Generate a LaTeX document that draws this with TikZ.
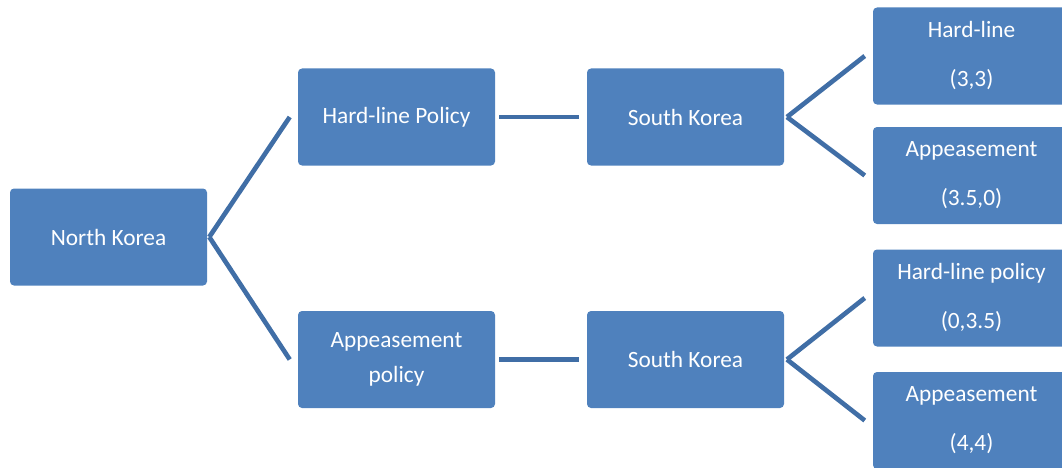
\documentclass[tikz,border=0pt]{standalone}
\usepackage{fontspec}
\setmainfont{Carlito}
\definecolor{boxblue}{RGB}{79,129,189}
\definecolor{lineblue}{RGB}{64,110,166}
\begin{document}
\begin{tikzpicture}[x=0.75pt, y=-0.75pt,
    player/.style={rectangle, rounded corners=3pt, fill=boxblue, text=white, inner sep=0pt,
        minimum width=147.75pt, minimum height=72.75pt, align=center,
        font=\fontsize{17.5}{26.25}\selectfont},
    payoff/.style={player, font=\fontsize{17.5}{36.75}\selectfont},
    link/.style={draw=lineblue, line width=3.5pt}]
    \useasboundingbox (0,0) rectangle (1062,467);
    \clip (0,0) rectangle (1062,467);

    \node [player] (A) at (108.5,237) {North Korea};

    \node [player] (B) at (396.5,117) {Hard-line Policy};
    \node [player] (C) at (396.5,359.5) {Appeasement\\policy};

    \node [player] (D) at (685.5,117) {South Korea};
    \node [player] (E) at (685.5,359.5) {South Korea};

    \node [payoff] (F) at (971.5,56) {Hard-line\\(3,3)};
    \node [payoff] (G) at (971.5,175.5) {Appeasement\\(3.5,0)};
    \node [payoff] (H) at (971.5,298) {Hard-line policy\\(0,3.5)};
    \node [payoff] (I) at (971.5,420.5) {Appeasement\\(4,4)};

    \draw [link] ([xshift=1.5pt]A.east) -- ([xshift=-6pt]B.west);
    \draw [link] ([xshift=1.5pt]A.east) -- ([xshift=-6pt]C.west);
    \draw [link] ([xshift=3pt]B.east) -- ([xshift=-6pt]D.west);
    \draw [link] ([xshift=3pt]C.east) -- ([xshift=-6pt]E.west);
    \draw [link] ([xshift=2pt]D.east) -- ([xshift=-6pt]F.west);
    \draw [link] ([xshift=2pt]D.east) -- ([xshift=-6pt]G.west);
    \draw [link] ([xshift=2pt]E.east) -- ([xshift=-6pt]H.west);
    \draw [link] ([xshift=2pt]E.east) -- ([xshift=-6pt]I.west);
\end{tikzpicture}
\end{document}
